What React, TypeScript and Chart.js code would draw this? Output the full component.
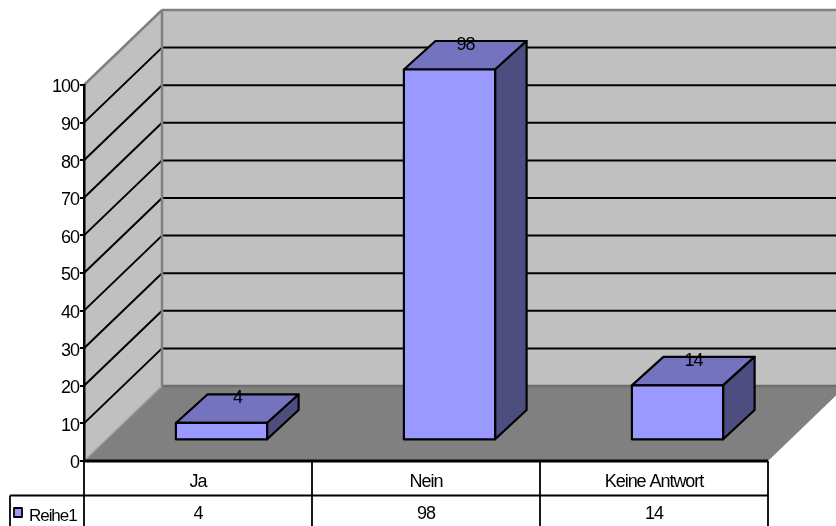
import React, { useEffect, useRef } from "react";
import { Chart, registerables } from "chart.js";

Chart.register(...registerables);

// Survey answers
const seriesName = "Reihe1";
const categories = ["Ja", "Nein", "Keine Antwort"];
const values = [4, 98, 14];
const axisMin = 0;
const axisMax = 100;
const axisStep = 10;

// Colours of the 3D box
const frontColor = "#9999FF";
const topColor = "#7373BF";
const sideColor = "#4D4D80";
const wallColor = "#C0C0C0";
const floorColor = "#808080";
const edgeColor = "#808080";
const inkColor = "#000000";

// Projection of the plot box and of the columns standing on its floor
const roomDepth = { dx: 78, dy: -75 };
const barDepth = { dx: 31.5, dy: -28.5 };
const barOffset = { dx: 23.5, dy: -21.5 };

const fontFamily = '"Liberation Sans", Arial, sans-serif';
const fontSize = 18;
const legendFontSize = 17;
const tracking = "-1.05px";
const yLabelDrop = 2.5;

function polygon(ctx: CanvasRenderingContext2D, pts: number[][], fill: string | null, stroke: string | null, width = 2) {
  ctx.beginPath();
  pts.forEach(([x, y], i) => (i ? ctx.lineTo(x, y) : ctx.moveTo(x, y)));
  ctx.closePath();
  if (fill) {
    ctx.fillStyle = fill;
    ctx.fill();
  }
  if (stroke) {
    ctx.strokeStyle = stroke;
    ctx.lineWidth = width;
    ctx.lineJoin = "round";
    ctx.stroke();
  }
}

function segment(ctx: CanvasRenderingContext2D, x0: number, y0: number, x1: number, y1: number, color: string, width: number) {
  ctx.beginPath();
  ctx.moveTo(x0, y0);
  ctx.lineTo(x1, y1);
  ctx.strokeStyle = color;
  ctx.lineWidth = width;
  ctx.stroke();
}

// Paints the side wall, back wall, floor and their gridlines from the y scale
const roomPlugin = {
  id: "room",
  beforeDraw(chart: any) {
    const { ctx, chartArea: a, scales } = chart;
    const { dx, dy } = roomDepth;
    ctx.letterSpacing = tracking;
    ctx.save();
    polygon(ctx, [[a.left + dx, a.top + dy], [a.right + dx, a.top + dy], [a.right + dx, a.bottom + dy], [a.left + dx, a.bottom + dy]], wallColor, null);
    polygon(ctx, [[a.left, a.bottom], [a.left, a.top], [a.left + dx, a.top + dy], [a.left + dx, a.bottom + dy]], wallColor, null);
    polygon(ctx, [[a.left, a.bottom], [a.right, a.bottom], [a.right + dx, a.bottom + dy], [a.left + dx, a.bottom + dy]], floorColor, null);
    scales.y.ticks.forEach((t: any) => {
      const y = scales.y.getPixelForValue(t.value);
      if (t.value === axisMin || t.value === axisMax) return;
      segment(ctx, a.left, y, a.left + dx, y + dy, inkColor, 2);
      segment(ctx, a.left + dx, y + dy, a.right + dx, y + dy, inkColor, 2);
    });
    segment(ctx, a.left, a.top, a.left + dx, a.top + dy, edgeColor, 2.5);
    segment(ctx, a.left + dx, a.top + dy, a.right + dx, a.top + dy, edgeColor, 2.5);
    segment(ctx, a.left + dx, a.top + dy, a.left + dx, a.bottom + dy, edgeColor, 2.5);
    segment(ctx, a.left + dx, a.bottom + dy, a.right + dx, a.bottom + dy, "#6E6E6E", 2.5);
    segment(ctx, a.left, a.bottom, a.left + dx, a.bottom + dy, "#A0A0A0", 1.5);
    ctx.restore();
  },
};

// Moves the columns forward onto the floor and adds their top and side faces and value labels
const boxPlugin = {
  id: "box",
  beforeDatasetDraw(chart: any) {
    const { ctx } = chart;
    ctx.save();
    ctx.translate(barOffset.dx, barOffset.dy);
  },
  afterDatasetDraw(chart: any, args: any) {
    const { ctx } = chart;
    const { dx, dy } = barDepth;
    const meta = chart.getDatasetMeta(args.index);
    meta.data.forEach((bar: any, i: number) => {
      const half = bar.width / 2;
      const l = bar.x - half;
      const r = bar.x + half;
      const t = bar.y - 1.5;
      const b = bar.base;
      polygon(ctx, [[l, t], [r, t], [r + dx, t + dy], [l + dx, t + dy]], topColor, inkColor, 2.2);
      polygon(ctx, [[r, t], [r + dx, t + dy], [r + dx, b + dy], [r, b + 0.8]], sideColor, inkColor, 2.2);
      polygon(ctx, [[l, t], [r, t], [r, b + 0.8], [l, b + 0.8]], frontColor, inkColor, 2.2);
      ctx.fillStyle = inkColor;
      ctx.font = `${fontSize}px ${fontFamily}`;
      ctx.textAlign = "center";
      ctx.textBaseline = "middle";
      ctx.fillText(String(values[i]), bar.x + 16, t - 24.5);
    });
    ctx.restore();
  },
};

// Rules of the data table under the plot, with the legend key in its first cell
const tablePlugin = {
  id: "dataTable",
  afterDraw(chart: any) {
    const { ctx, chartArea: a, height } = chart;
    const rowY = 495.5;
    const tableLeft = 10;
    ctx.save();
    segment(ctx, a.left, a.bottom, a.right, a.bottom, inkColor, 3);
    segment(ctx, tableLeft, rowY, a.right, rowY, inkColor, 1.8);
    segment(ctx, tableLeft, rowY, tableLeft, height, inkColor, 1.8);
    categories.forEach((_, i) => {
      const edge = a.left + ((a.right - a.left) * i) / categories.length;
      segment(ctx, edge, a.bottom, edge, height, inkColor, 1.8);
    });
    segment(ctx, a.right, a.bottom, a.right, height, inkColor, 1.8);
    polygon(ctx, [[14, 508], [22, 508], [22, 517], [14, 517]], frontColor, inkColor, 1.8);
    ctx.fillStyle = inkColor;
    ctx.font = `${legendFontSize}px ${fontFamily}`;
    ctx.textAlign = "left";
    ctx.textBaseline = "middle";
    ctx.fillText(seriesName, 29, 516);
    ctx.restore();
  },
};

export default function App() {
  const ref = useRef<HTMLCanvasElement>(null);

  useEffect(() => {
    document.body.style.margin = "0";
    const chart = new Chart(ref.current!, {
      type: "bar",
      data: {
        labels: categories.map((c, i) => [c, String(values[i])]),
        datasets: [
          {
            label: seriesName,
            data: values,
            backgroundColor: frontColor,
            borderWidth: 0,
            barPercentage: 1,
            categoryPercentage: 0.4,
          },
        ],
      },
      options: {
        responsive: false,
        animation: false,
        layout: { padding: { left: 0, right: 68, top: 85, bottom: 0 } },
        plugins: { legend: { display: false }, tooltip: { enabled: false }, title: { display: false } },
        scales: {
          x: {
            grid: { display: false, drawTicks: false },
            border: { display: false },
            ticks: {
              color: inkColor,
              maxRotation: 0,
              autoSkip: false,
              padding: 5,
              font: { family: fontFamily, size: fontSize, lineHeight: "32px" },
            },
            afterFit(scale: any) {
              scale.height = 65;
            },
          },
          y: {
            min: axisMin,
            max: axisMax,
            ticks: {
              stepSize: axisStep,
              color: inkColor,
              padding: 1,
              font: { family: fontFamily, size: fontSize },
            },
            grid: { drawOnChartArea: false, color: inkColor, lineWidth: 2, tickLength: 4 },
            border: { color: inkColor, width: 2.5 },
            afterFit(scale: any) {
              scale.width = 84;
              // Tick labels sit a little below their tick marks
              if (!scale.__dropped) {
                const compute = scale._computeLabelItems;
                scale._computeLabelItems = function (area: any) {
                  return compute.call(this, area).map((item: any) => {
                    const [x, y] = item.options.translation;
                    return { ...item, options: { ...item.options, translation: [x, y + yLabelDrop] } };
                  });
                };
                scale.__dropped = true;
              }
            },
          },
        },
      },
      plugins: [roomPlugin, boxPlugin, tablePlugin],
    } as any);
    return () => chart.destroy();
  }, []);

  return (
    <div style={{ position: "absolute", left: 0, top: 0, width: 836, height: 526, overflow: "hidden" }}>
      <canvas ref={ref} width={836} height={526} style={{ display: "block" }} />
    </div>
  );
}
